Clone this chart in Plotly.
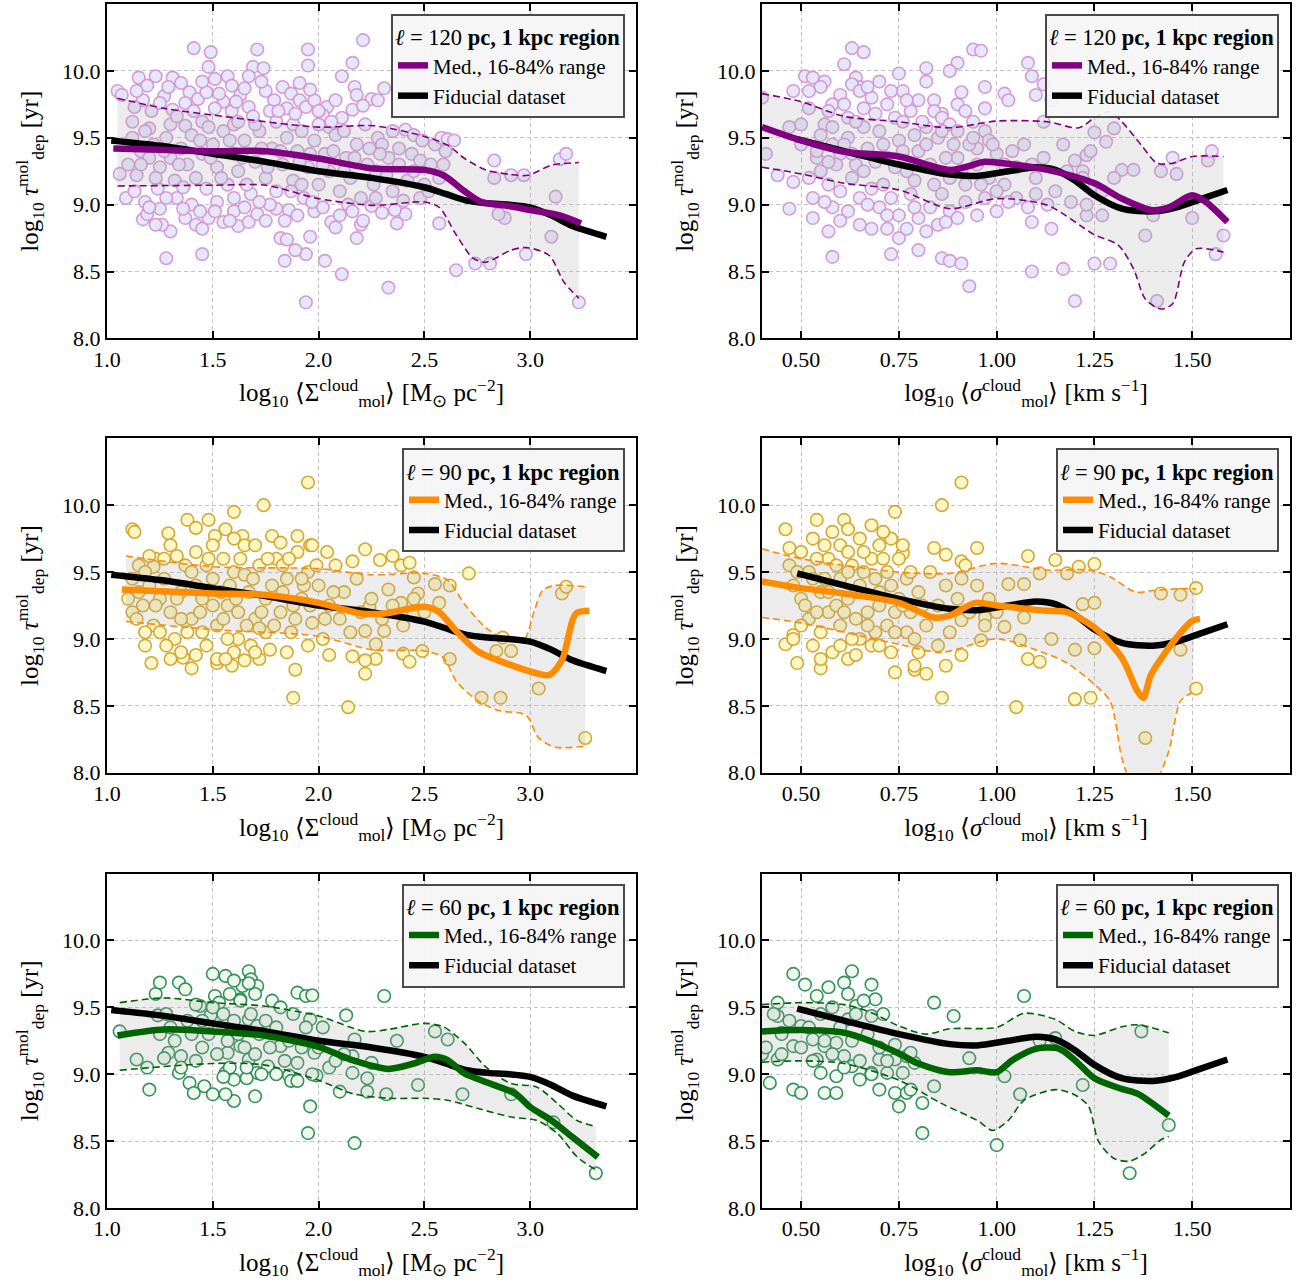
import plotly.graph_objects as go

FONT = "Liberation Serif"

# ---------------- fiducial (black) curves ----------------
FID_SURF_X = [1.02, 1.25, 1.5, 1.75, 2.0, 2.25, 2.5, 2.6, 2.7, 2.8, 2.9, 3.0, 3.1, 3.2, 3.36]
FID_SURF_Y = [9.48, 9.44, 9.38, 9.32, 9.25, 9.20, 9.13, 9.08, 9.03, 9.01, 9.00, 8.98, 8.92, 8.84, 8.76]
FID_VEL_X = [0.49, 0.61, 0.75, 0.88, 0.95, 1.03, 1.1, 1.15, 1.2, 1.25, 1.32, 1.40, 1.46, 1.52, 1.59]
FID_VEL_Y = [9.49, 9.40, 9.30, 9.225, 9.215, 9.25, 9.28, 9.26, 9.18, 9.07, 8.97, 8.95, 8.98, 9.04, 9.11]

# ---------------- l = 120 pc ----------------
MED_120_SURF_X = [1.03, 1.25, 1.5, 1.75, 2.0, 2.26, 2.5, 2.59, 2.69, 2.77, 2.9, 3.0, 3.14, 3.24]
MED_120_SURF_Y = [9.42, 9.41, 9.40, 9.40, 9.345, 9.27, 9.26, 9.22, 9.10, 9.02, 8.99, 8.96, 8.92, 8.86]
HI_120_SURF_X = [1.05, 1.27, 1.5, 2.0, 2.26, 2.5, 2.61, 2.69, 2.79, 2.91, 2.99, 3.1, 3.23]
HI_120_SURF_Y = [9.795, 9.72, 9.67, 9.58, 9.59, 9.51, 9.445, 9.345, 9.26, 9.225, 9.22, 9.295, 9.315]
LO_120_SURF_X = [1.05, 1.5, 1.75, 2.0, 2.26, 2.5, 2.57, 2.65, 2.73, 2.79, 2.91, 2.98, 3.09, 3.16, 3.23]
LO_120_SURF_Y = [9.14, 9.145, 9.145, 9.045, 8.995, 9.02, 8.98, 8.775, 8.60, 8.57, 8.66, 8.68, 8.62, 8.42, 8.30]

MED_120_VEL_X = [0.4, 0.5, 0.61, 0.75, 0.88, 0.97, 1.0, 1.13, 1.25, 1.32, 1.395, 1.44, 1.50, 1.535, 1.59]
MED_120_VEL_Y = [9.58, 9.48, 9.395, 9.36, 9.26, 9.32, 9.315, 9.26, 9.16, 9.045, 8.96, 8.98, 9.07, 9.02, 8.87]
HI_120_VEL_X = [0.4, 0.5, 0.61, 0.75, 0.88, 1.0, 1.13, 1.21, 1.255, 1.29, 1.32, 1.37, 1.41, 1.45, 1.50, 1.58]
HI_120_VEL_Y = [9.83, 9.77, 9.66, 9.62, 9.575, 9.625, 9.62, 9.575, 9.66, 9.695, 9.62, 9.445, 9.31, 9.31, 9.36, 9.36]
LO_120_VEL_X = [0.4, 0.5, 0.61, 0.75, 0.88, 1.0, 1.13, 1.25, 1.31, 1.35, 1.38, 1.42, 1.45, 1.48, 1.51, 1.58]
LO_120_VEL_Y = [9.28, 9.23, 9.16, 9.11, 8.97, 9.045, 8.995, 8.775, 8.70, 8.52, 8.295, 8.22, 8.26, 8.57, 8.67, 8.645]

PTS_120_SURF = [
    (1.05, 9.85), (1.07, 9.82), (1.41, 10.17), (1.49, 10.14), (1.48, 10.03), (1.71, 10.16), (1.69, 10.03),
    (1.74, 10.02), (1.95, 10.16), (1.95, 10.04), (2.21, 10.23), (2.16, 10.06), (2.11, 9.96), (2.17, 9.88),
    (2.18, 9.82), (2.25, 9.79), (2.28, 9.78), (2.31, 9.87), (2.51, 9.78),
    (1.15, 9.95), (1.19, 9.89), (1.23, 9.96), (1.31, 9.95), (1.35, 9.91), (1.39, 9.84), (1.27, 9.81),
    (1.17, 9.78), (1.13, 9.73), (1.25, 9.76), (1.31, 9.71), (1.37, 9.76), (1.43, 9.79), (1.47, 9.84),
    (1.51, 9.94), (1.57, 9.96), (1.59, 9.89), (1.63, 9.82), (1.67, 9.96), (1.65, 9.87), (1.55, 9.77),
    (1.51, 9.72), (1.59, 9.70), (1.67, 9.73), (1.75, 9.85), (1.79, 9.78), (1.83, 9.88), (1.87, 9.83),
    (1.91, 9.91), (1.91, 9.78), (1.85, 9.72), (1.77, 9.70), (1.94, 9.73), (1.98, 9.78), (2.04, 9.73),
    (2.08, 9.78), (2.02, 9.67), (2.11, 9.65), (2.16, 9.71), (2.21, 9.74),
    (1.12, 9.62), (1.20, 9.57), (1.37, 9.59), (1.45, 9.62), (1.60, 9.60), (1.80, 9.62), (1.88, 9.60),
    (2.05, 9.58), (2.22, 9.60), (2.35, 9.55), (2.41, 9.56), (2.45, 9.52), (2.49, 9.48), (2.28, 9.50),
    (2.30, 9.45), (2.38, 9.42), (2.44, 9.38), (2.33, 9.35), (2.48, 9.33), (2.55, 9.45), (2.58, 9.50),
    (2.61, 9.49), (2.64, 9.48), (2.60, 9.40), (2.59, 9.30), (2.57, 9.20), (2.83, 9.33), (2.83, 9.20),
    (2.91, 9.22), (2.97, 9.22), (3.12, 9.06), (3.14, 9.34), (3.17, 9.38), (3.10, 8.76), (2.98, 8.63),
    (3.23, 8.27), (2.88, 8.90), (2.85, 8.93), (2.81, 8.56), (2.74, 8.56), (2.65, 8.51), (2.57, 8.86),
    (2.41, 8.93), (2.37, 8.86), (2.36, 8.96), (2.33, 8.38), (2.20, 8.85), (2.18, 8.75), (2.21, 8.88),
    (2.11, 8.48), (2.03, 8.58), (2.06, 8.87), (2.08, 8.83), (1.94, 8.27), (1.96, 8.76), (1.94, 8.63),
    (1.89, 8.66), (1.84, 8.58), (1.82, 8.75), (1.85, 8.74), (1.45, 8.63), (1.28, 8.60), (1.30, 8.80),
    (1.26, 8.85), (1.23, 8.85), (1.17, 8.89), (1.19, 8.93), (1.25, 8.97), (1.37, 8.90), (1.42, 8.85),
    (1.45, 8.82), (1.48, 8.90), (1.55, 8.87), (1.60, 8.95), (1.62, 8.84), (1.67, 8.87), (1.71, 8.93),
    (1.75, 8.88), (1.80, 8.97), (1.86, 8.96), (1.90, 8.92), (1.98, 8.95), (2.02, 8.98), (2.14, 9.00),
    (2.25, 8.99), (2.30, 8.94), (2.40, 9.03), (2.48, 9.05), (2.52, 9.10),
    (1.06, 9.23), (1.10, 9.30), (1.14, 9.22), (1.16, 9.40), (1.20, 9.35), (1.22, 9.45), (1.25, 9.28),
    (1.28, 9.50), (1.30, 9.35), (1.32, 9.18), (1.35, 9.42), (1.38, 9.30), (1.40, 9.52), (1.42, 9.20),
    (1.45, 9.38), (1.47, 9.12), (1.50, 9.45), (1.52, 9.28), (1.55, 9.55), (1.57, 9.15), (1.60, 9.38),
    (1.62, 9.25), (1.65, 9.48), (1.68, 9.08), (1.70, 9.32), (1.72, 9.55), (1.75, 9.20), (1.78, 9.42),
    (1.80, 9.10), (1.83, 9.30), (1.85, 9.50), (1.88, 9.18), (1.90, 9.40), (1.93, 9.05), (1.95, 9.28),
    (1.98, 9.48), (2.00, 9.15), (2.03, 9.38), (2.05, 9.25), (2.08, 9.52), (2.10, 9.10), (2.13, 9.35),
    (2.15, 9.20), (2.18, 9.45), (2.20, 9.05), (2.23, 9.30), (2.26, 9.15), (2.29, 9.38), (2.32, 9.22),
    (2.35, 9.10), (2.38, 9.30), (2.42, 9.18), (2.45, 9.25), (2.50, 9.15), (2.53, 9.30), (1.09, 9.05),
    (1.13, 9.10), (1.18, 9.02), (1.24, 9.12), (1.33, 9.05), (1.40, 9.00), (1.52, 9.02), (1.60, 9.05),
    (1.77, 9.00), (1.92, 9.15), (1.12, 9.50), (1.18, 9.55), (1.30, 9.60), (1.48, 9.58), (1.62, 9.62),
    (1.70, 9.60), (1.92, 9.55), (2.00, 9.60), (2.12, 9.55),
    (1.14, 9.85), (1.21, 9.70), (1.29, 9.88), (1.33, 9.66), (1.41, 9.70), (1.45, 9.92), (1.53, 9.83),
    (1.61, 9.77), (1.69, 9.66), (1.73, 9.92), (1.81, 9.70), (1.89, 9.68), (1.96, 9.86), (2.00, 9.70),
    (2.06, 9.62), (1.16, 9.30), (1.23, 9.20), (1.27, 9.40), (1.34, 9.30), (1.36, 9.13), (1.44, 9.48),
    (1.49, 9.35), (1.54, 9.20), (1.58, 9.48), (1.64, 9.35), (1.66, 9.15), (1.73, 9.42), (1.76, 9.28),
    (1.82, 9.40), (1.87, 9.10), (1.91, 9.32), (1.96, 9.38), (2.02, 9.30), (2.07, 9.40), (2.12, 9.25),
    (2.17, 9.35), (2.24, 9.42), (2.27, 9.25), (1.20, 8.98), (1.28, 9.05), (1.36, 8.97), (1.44, 8.95),
    (1.51, 8.95), (1.58, 8.88), (1.65, 8.98), (1.72, 9.02), (1.84, 8.88), (1.97, 9.02), (2.10, 8.92),
    (2.16, 8.95), (2.27, 9.05),
]

PTS_120_VEL = [
    (0.40, 9.80), (0.41, 9.38), (0.44, 9.22), (0.47, 8.97), (0.48, 9.17), (0.47, 9.58), (0.48, 9.85),
    (0.51, 9.96), (0.57, 8.80), (0.58, 8.61), (0.61, 10.05), (0.63, 10.17), (0.66, 10.14), (0.64, 9.95),
    (0.65, 9.88), (0.73, 8.63), (0.75, 8.75), (0.72, 8.82), (0.80, 8.66), (0.86, 8.60), (0.88, 8.58),
    (0.91, 8.56), (0.93, 8.39), (0.94, 10.16), (0.96, 10.15), (0.90, 10.06), (0.88, 10.00), (0.82, 10.02),
    (0.82, 9.92), (0.97, 9.88), (1.02, 9.83), (1.03, 9.78), (0.84, 9.78), (0.86, 9.68), (0.91, 9.84),
    (0.90, 9.75), (0.97, 9.72), (1.08, 10.06), (1.09, 9.96), (1.10, 9.82), (1.12, 9.90), (1.14, 9.78),
    (1.09, 9.30), (1.12, 9.62), (1.09, 8.87), (1.14, 8.82), (1.09, 8.50), (1.17, 8.52), (1.20, 8.28),
    (1.25, 8.56), (1.29, 8.56), (1.25, 9.54), (1.23, 9.37), (1.28, 9.47), (1.30, 9.57), (1.20, 9.33),
    (1.22, 9.25), (1.25, 9.13), (1.27, 8.92), (1.23, 8.92), (1.19, 9.02), (1.32, 9.26), (1.35, 9.26),
    (1.38, 8.77), (1.40, 8.92), (1.41, 8.28), (1.42, 9.25), (1.45, 9.35), (1.46, 9.23), (1.50, 8.90),
    (1.54, 9.33), (1.55, 9.40), (1.56, 8.63), (1.58, 8.77), (1.27, 10.24),
    (0.53, 9.95), (0.56, 9.92), (0.55, 9.88), (0.60, 9.82), (0.58, 9.75), (0.52, 9.72), (0.63, 9.90),
    (0.65, 9.85), (0.68, 9.80), (0.70, 9.92), (0.72, 9.75), (0.66, 9.72), (0.75, 9.98), (0.76, 9.85),
    (0.78, 9.70), (0.74, 9.65), (0.62, 9.65), (0.56, 9.60), (0.50, 9.60), (0.80, 9.78), (0.84, 9.70),
    (0.86, 9.65), (0.88, 9.60), (0.82, 9.58), (0.92, 9.70), (0.94, 9.62), (0.90, 9.55), (0.97, 9.55),
    (0.98, 9.48), (0.95, 9.42), (0.55, 9.52), (0.58, 9.45), (0.60, 9.38), (0.62, 9.50), (0.64, 9.30),
    (0.67, 9.42), (0.70, 9.55), (0.72, 9.35), (0.75, 9.48), (0.77, 9.25), (0.80, 9.40), (0.83, 9.30),
    (0.85, 9.50), (0.88, 9.20), (0.90, 9.35), (0.92, 9.15), (0.95, 9.30), (0.98, 9.20), (1.00, 9.38),
    (1.02, 9.15), (1.05, 9.28), (1.07, 9.45), (1.10, 9.20), (1.12, 9.35), (1.15, 9.10), (1.17, 9.45),
    (1.05, 9.05), (1.08, 8.98), (1.10, 9.08), (1.13, 9.00), (0.55, 9.25), (0.57, 9.15), (0.60, 9.10),
    (0.63, 9.20), (0.65, 9.05), (0.68, 9.12), (0.70, 8.98), (0.73, 9.05), (0.75, 8.92), (0.78, 9.08),
    (0.80, 8.90), (0.83, 8.98), (0.85, 8.85), (0.88, 8.95), (0.92, 9.02), (0.95, 8.92), (0.97, 9.05),
    (0.62, 8.95), (0.65, 8.85), (0.68, 8.82), (0.58, 8.98), (0.53, 9.05), (0.52, 9.20), (0.54, 9.35),
    (0.50, 9.45), (0.53, 8.90), (0.77, 8.82), (0.82, 8.80), (0.87, 8.87), (1.00, 8.95), (1.03, 9.02),
    (1.18, 9.25), (1.22, 9.20), (1.24, 9.40), (1.27, 9.10), (1.30, 9.20), (1.23, 9.00), (0.59, 9.30),
    (0.66, 9.58), (0.71, 9.15), (0.76, 9.62), (0.79, 9.52), (0.86, 9.08), (0.93, 9.45), (1.00, 9.10),
    (0.52, 9.85), (0.57, 9.70), (0.61, 9.75), (0.64, 9.62), (0.67, 9.88), (0.69, 9.68), (0.73, 9.85),
    (0.77, 9.78), (0.81, 9.62), (0.54, 9.40), (0.57, 9.32), (0.61, 9.45), (0.63, 9.38), (0.66, 9.25),
    (0.69, 9.32), (0.71, 9.45), (0.74, 9.28), (0.76, 9.40), (0.79, 9.18), (0.82, 9.45), (0.84, 9.15),
    (0.87, 9.35), (0.89, 9.45), (0.91, 9.25), (0.94, 9.50), (0.96, 9.15), (0.99, 9.45), (1.02, 9.30),
    (1.04, 9.40), (0.56, 9.02), (0.60, 8.88), (0.67, 9.00), (0.72, 8.92), (0.79, 8.98), (0.90, 8.90),
    (0.58, 9.58), (0.86, 9.55),
]

# ---------------- l = 90 pc ----------------
MED_90_SURF_X = [1.07, 1.5, 1.74, 2.0, 2.2, 2.31, 2.5, 2.57, 2.65, 2.75, 2.9, 3.04, 3.09, 3.15, 3.18, 3.2, 3.22, 3.28]
MED_90_SURF_Y = [9.37, 9.34, 9.33, 9.27, 9.19, 9.19, 9.24, 9.20, 9.06, 8.91, 8.81, 8.74, 8.73, 8.84, 9.015, 9.14, 9.195, 9.21]
HI_90_SURF_X = [1.09, 1.5, 2.0, 2.25, 2.5, 2.61, 2.69, 2.79, 2.9, 2.97, 3.02, 3.06, 3.12, 3.26]
HI_90_SURF_Y = [9.62, 9.54, 9.525, 9.48, 9.49, 9.44, 9.26, 9.085, 8.985, 8.99, 9.215, 9.365, 9.40, 9.39]
LO_90_SURF_X = [1.09, 1.5, 2.0, 2.25, 2.5, 2.59, 2.65, 2.75, 2.85, 2.98, 3.04, 3.12, 3.26]
LO_90_SURF_Y = [9.13, 9.07, 9.02, 8.92, 8.91, 8.86, 8.685, 8.54, 8.465, 8.43, 8.26, 8.19, 8.20]

MED_90_VEL_X = [0.4, 0.5, 0.61, 0.75, 0.84, 0.88, 0.945, 1.0, 1.13, 1.18, 1.25, 1.32, 1.36, 1.375, 1.395, 1.46, 1.50, 1.52]
MED_90_VEL_Y = [9.43, 9.38, 9.34, 9.27, 9.16, 9.175, 9.27, 9.25, 9.21, 9.20, 9.085, 8.86, 8.61, 8.56, 8.735, 9.01, 9.135, 9.15]
HI_90_VEL_X = [0.4, 0.5, 0.75, 0.88, 1.0, 1.13, 1.235, 1.29, 1.355, 1.395, 1.46, 1.51]
HI_90_VEL_Y = [9.675, 9.60, 9.50, 9.49, 9.565, 9.515, 9.515, 9.465, 9.35, 9.36, 9.375, 9.375]
LO_90_VEL_X = [0.4, 0.5, 0.75, 0.86, 1.0, 1.13, 1.18, 1.25, 1.29, 1.32, 1.34, 1.375, 1.41, 1.44, 1.47, 1.50]
LO_90_VEL_Y = [9.16, 9.12, 8.96, 8.90, 9.0, 8.885, 8.82, 8.66, 8.535, 8.11, 7.95, 7.85, 7.95, 8.16, 8.535, 8.60]

PTS_90_SURF = [
    (1.12, 9.82), (1.13, 9.80), (1.29, 9.79), (1.23, 9.60), (1.22, 9.54), (1.18, 8.95), (1.21, 8.82),
    (1.38, 9.89), (1.42, 9.83), (1.48, 9.89), (1.51, 9.77), (1.56, 9.82), (1.60, 9.95), (1.64, 9.77),
    (1.74, 10.00), (1.78, 9.77), (1.90, 9.77), (1.95, 10.17), (1.96, 9.70), (2.04, 9.65), (2.22, 9.67),
    (2.16, 9.58), (2.29, 9.59), (2.35, 9.62), (2.39, 9.55), (2.43, 9.57), (2.45, 9.46), (2.55, 9.41),
    (2.71, 9.49), (2.62, 9.40), (2.57, 9.27), (2.47, 9.34), (2.33, 9.37), (2.39, 9.27), (2.45, 9.19),
    (2.24, 9.24), (2.22, 9.06), (2.27, 8.96), (2.31, 9.06), (2.40, 8.89), (2.43, 8.83), (2.49, 8.91),
    (2.27, 8.85), (2.22, 8.84), (2.22, 8.74), (2.16, 8.87), (2.05, 8.88), (2.14, 8.49), (1.89, 8.77),
    (1.88, 8.56), (1.72, 8.85), (1.65, 8.84), (1.59, 8.80), (1.52, 8.82), (1.40, 8.78), (1.36, 8.86),
    (2.62, 8.85), (2.77, 8.56), (2.86, 8.56), (2.84, 8.91), (2.91, 8.91), (3.04, 8.63), (2.87, 9.01),
    (3.15, 9.34), (3.17, 9.39), (3.26, 8.26),
    (1.10, 9.30), (1.12, 9.20), (1.15, 9.35), (1.17, 9.25), (1.20, 9.40), (1.22, 9.10), (1.25, 9.30),
    (1.27, 9.45), (1.30, 9.20), (1.32, 9.00), (1.35, 9.35), (1.37, 9.55), (1.40, 9.15), (1.42, 9.65),
    (1.45, 9.30), (1.47, 8.95), (1.50, 9.45), (1.52, 9.10), (1.55, 9.60), (1.57, 9.25), (1.60, 9.50),
    (1.62, 9.00), (1.65, 9.70), (1.67, 9.35), (1.70, 9.15), (1.72, 9.55), (1.75, 9.30), (1.77, 8.92),
    (1.80, 9.60), (1.82, 9.20), (1.85, 9.45), (1.87, 9.05), (1.90, 9.65), (1.92, 9.30), (1.95, 9.50),
    (1.97, 9.12), (2.00, 9.40), (2.02, 9.00), (2.05, 9.25), (2.08, 9.55), (2.10, 9.15), (2.12, 9.35),
    (2.15, 9.05), (2.18, 9.45), (2.20, 9.20), (2.25, 9.30), (2.30, 9.15), (2.35, 9.25), (2.40, 9.10),
    (2.45, 9.30), (2.50, 9.20), (1.15, 9.55), (1.25, 9.05), (1.35, 8.90), (1.45, 9.05), (1.52, 8.85),
    (1.60, 8.90), (1.68, 8.95), (1.75, 9.05), (1.85, 8.90), (1.95, 8.95), (1.20, 9.62), (1.30, 9.70),
    (1.50, 9.70), (1.60, 9.75), (1.70, 9.70), (1.82, 9.72), (1.97, 9.70), (1.35, 9.15), (1.42, 9.40),
    (1.58, 9.40), (1.62, 9.20), (1.78, 9.40), (1.88, 9.25), (1.12, 9.45), (1.28, 8.95), (1.18, 9.05),
    (1.33, 9.62), (1.47, 9.55), (1.55, 9.15), (1.65, 9.48), (1.72, 9.08), (1.83, 9.55), (1.93, 9.40),
    (1.14, 9.15), (1.18, 9.50), (1.23, 9.25), (1.27, 9.60), (1.33, 9.30), (1.38, 9.05), (1.40, 9.50),
    (1.44, 9.20), (1.48, 9.60), (1.50, 9.25), (1.54, 9.35), (1.57, 9.00), (1.61, 9.30), (1.63, 9.60),
    (1.66, 9.10), (1.69, 9.45), (1.73, 9.20), (1.76, 9.60), (1.79, 9.10), (1.83, 9.35), (1.86, 9.60),
    (1.89, 9.15), (1.92, 9.45), (1.96, 9.25), (1.99, 9.55), (2.03, 9.15), (2.07, 9.35), (1.30, 8.85),
    (1.42, 8.88), (1.56, 8.85), (1.70, 8.90),
]

PTS_90_VEL = [
    (0.46, 9.82), (0.47, 9.68), (0.49, 8.82), (0.46, 8.96), (0.48, 9.03), (0.54, 9.89), (0.55, 8.78),
    (0.61, 9.89), (0.62, 9.82), (0.68, 9.85), (0.74, 9.95), (0.73, 9.75), (0.76, 9.64), (0.74, 8.75),
    (0.79, 8.77), (0.82, 8.74), (0.86, 8.56), (0.87, 8.80), (0.86, 10.00), (0.91, 10.17), (0.84, 9.68),
    (0.87, 9.63), (0.91, 9.58), (0.95, 9.68), (0.91, 9.45), (0.91, 9.14), (0.91, 8.88), (0.96, 8.99),
    (0.97, 9.16), (1.00, 9.20), (1.02, 9.09), (1.03, 9.41), (1.05, 8.49), (1.06, 8.99), (1.07, 9.16),
    (1.08, 9.62), (1.11, 9.49), (1.07, 9.41), (1.08, 8.85), (1.11, 8.83), (1.14, 9.00), (1.15, 9.59),
    (1.18, 9.49), (1.21, 9.54), (1.22, 9.26), (1.25, 9.56), (1.25, 9.27), (1.20, 8.92), (1.25, 8.93),
    (1.20, 8.55), (1.24, 8.56), (1.38, 8.26), (1.42, 9.34), (1.47, 9.33), (1.47, 8.92), (1.51, 9.38),
    (1.51, 8.63),
    (0.47, 9.55), (0.48, 9.40), (0.50, 9.65), (0.50, 9.30), (0.52, 9.50), (0.52, 9.15), (0.53, 9.75),
    (0.55, 9.35), (0.55, 9.05), (0.57, 9.60), (0.57, 9.20), (0.58, 8.90), (0.60, 9.45), (0.60, 9.70),
    (0.60, 9.10), (0.62, 9.30), (0.62, 8.85), (0.63, 9.55), (0.65, 9.00), (0.65, 9.75), (0.65, 9.40),
    (0.67, 9.20), (0.68, 9.60), (0.68, 8.95), (0.70, 9.35), (0.70, 9.70), (0.72, 9.10), (0.72, 9.50),
    (0.73, 8.90), (0.75, 9.30), (0.75, 9.60), (0.77, 9.05), (0.77, 9.45), (0.78, 9.20), (0.80, 9.35),
    (0.80, 8.90), (0.82, 9.10), (0.83, 9.50), (0.85, 9.25), (0.85, 8.95), (0.87, 9.40), (0.88, 9.05),
    (0.90, 9.30), (0.92, 9.55), (0.93, 9.20), (0.95, 9.40), (0.97, 9.10), (0.98, 9.30), (0.53, 8.95),
    (0.56, 9.45), (0.59, 9.25), (0.64, 9.15), (0.66, 9.50), (0.69, 9.05), (0.74, 9.20), (0.79, 8.80),
    (0.50, 9.10), (0.48, 9.00), (0.54, 9.60), (0.58, 9.80), (0.62, 9.65), (0.71, 9.80), (0.76, 9.70),
    (0.49, 9.50), (0.51, 9.25), (0.53, 9.45), (0.54, 9.20), (0.56, 9.70), (0.57, 9.35), (0.59, 9.55),
    (0.61, 9.20), (0.62, 9.50), (0.63, 9.00), (0.64, 9.35), (0.66, 9.65), (0.67, 9.10), (0.69, 9.45),
    (0.70, 9.25), (0.71, 9.60), (0.73, 9.40), (0.74, 9.05), (0.76, 9.25), (0.78, 9.50), (0.79, 9.00),
    (0.81, 9.25), (0.55, 8.85), (0.60, 8.95), (0.64, 8.88), (0.70, 8.95),
]

# ---------------- l = 60 pc ----------------
MED_60_SURF_X = [1.05, 1.27, 1.5, 1.74, 2.0, 2.16, 2.33, 2.45, 2.55, 2.61, 2.69, 2.81, 2.93, 3.0, 3.1, 3.2, 3.32]
MED_60_SURF_Y = [9.29, 9.335, 9.32, 9.29, 9.205, 9.105, 9.04, 9.08, 9.13, 9.105, 9.005, 8.93, 8.855, 8.755, 8.655, 8.53, 8.38]
HI_60_SURF_X = [1.06, 1.27, 1.5, 1.74, 2.0, 2.22, 2.33, 2.5, 2.59, 2.69, 2.79, 2.91, 3.03, 3.13, 3.22, 3.31]
HI_60_SURF_Y = [9.535, 9.57, 9.535, 9.51, 9.435, 9.32, 9.335, 9.38, 9.355, 9.23, 9.055, 8.93, 8.905, 8.78, 8.655, 8.61]
LO_60_SURF_X = [1.06, 1.5, 1.74, 2.0, 2.16, 2.33, 2.5, 2.61, 2.75, 2.91, 3.03, 3.13, 3.22, 3.31]
LO_60_SURF_Y = [9.03, 9.08, 9.07, 8.955, 8.855, 8.82, 8.82, 8.805, 8.745, 8.68, 8.655, 8.555, 8.385, 8.285]

MED_60_VEL_X = [0.4, 0.5, 0.61, 0.68, 0.75, 0.8, 0.88, 0.95, 1.0, 1.04, 1.1, 1.16, 1.2, 1.25, 1.32, 1.36, 1.44]
MED_60_VEL_Y = [9.32, 9.33, 9.31, 9.245, 9.155, 9.08, 9.015, 9.03, 9.015, 9.105, 9.19, 9.19, 9.105, 8.97, 8.89, 8.855, 8.69]
HI_60_VEL_X = [0.4, 0.5, 0.61, 0.68, 0.75, 0.82, 0.88, 1.0, 1.07, 1.15, 1.2, 1.25, 1.32, 1.36, 1.44]
HI_60_VEL_Y = [9.52, 9.535, 9.52, 9.46, 9.36, 9.30, 9.34, 9.35, 9.455, 9.41, 9.32, 9.29, 9.355, 9.37, 9.31]
LO_60_VEL_X = [0.4, 0.5, 0.61, 0.75, 0.86, 0.95, 0.99, 1.03, 1.07, 1.15, 1.2, 1.235, 1.26, 1.30, 1.34, 1.38, 1.42, 1.44]
LO_60_VEL_Y = [9.09, 9.10, 9.08, 8.955, 8.78, 8.655, 8.58, 8.655, 8.805, 8.885, 8.845, 8.76, 8.50, 8.37, 8.35, 8.41, 8.51, 8.535]

PTS_60_SURF = [
    (1.06, 9.32), (1.14, 9.11), (1.19, 9.05), (1.20, 8.885), (1.23, 9.60), (1.25, 9.685), (1.24, 9.44),
    (1.29, 9.16), (1.34, 9.685), (1.37, 9.635), (1.35, 9.135), (1.34, 9.01), (1.39, 8.935), (1.41, 8.86),
    (1.46, 8.91), (1.50, 8.85), (1.50, 9.75), (1.56, 9.735), (1.51, 9.585), (1.53, 9.535), (1.49, 9.44),
    (1.44, 9.51), (1.57, 9.16), (1.56, 9.01), (1.60, 8.96), (1.60, 8.80), (1.56, 8.85), (1.64, 9.66),
    (1.67, 9.77), (1.68, 9.71), (1.71, 9.66), (1.63, 9.56), (1.67, 9.41), (1.71, 9.36), (1.63, 9.21),
    (1.67, 9.11), (1.71, 9.01), (1.66, 8.97), (1.70, 8.835), (1.76, 9.06), (1.78, 9.55), (1.82, 9.21),
    (1.86, 8.99), (1.87, 8.95), (1.90, 9.61), (1.94, 9.585), (1.97, 9.59), (1.96, 9.41), (1.90, 9.085),
    (1.98, 9.16), (1.99, 8.99), (1.96, 8.76), (1.95, 8.56), (2.05, 9.05), (2.10, 8.87), (2.13, 9.44),
    (2.17, 9.26), (2.16, 9.135), (2.16, 9.01), (2.23, 8.97), (2.23, 8.87), (2.25, 9.085), (2.17, 8.485),
    (2.32, 8.85), (2.31, 9.585), (2.37, 9.25), (2.47, 8.92), (2.55, 9.32), (2.61, 9.26), (2.68, 8.85),
    (2.91, 8.85), (3.11, 8.64), (3.31, 8.26),
    (1.25, 9.30), (1.28, 9.45), (1.30, 9.35), (1.32, 9.25), (1.38, 9.40), (1.40, 9.30), (1.42, 9.52),
    (1.45, 9.20), (1.45, 9.40), (1.48, 9.30), (1.50, 9.50), (1.52, 9.15), (1.53, 9.35), (1.55, 9.45),
    (1.57, 9.25), (1.58, 9.05), (1.60, 9.40), (1.62, 9.30), (1.63, 9.55), (1.65, 9.20), (1.66, 9.05),
    (1.68, 9.45), (1.70, 9.15), (1.72, 9.30), (1.73, 9.00), (1.75, 9.40), (1.77, 9.20), (1.80, 9.35),
    (1.80, 9.00), (1.82, 9.50), (1.84, 9.10), (1.86, 9.25), (1.88, 9.45), (1.90, 8.95), (1.92, 9.20),
    (1.94, 9.35), (1.97, 9.00), (2.00, 9.20), (2.02, 9.35), (2.08, 9.10), (2.12, 9.15), (1.35, 9.05),
    (1.27, 9.12), (1.42, 9.10), (1.55, 8.98), (1.58, 9.60), (1.70, 9.60), (1.60, 9.70), (1.67, 9.68),
]

PTS_60_VEL = [
    (0.48, 9.75), (0.44, 9.535), (0.42, 8.935), (0.40, 9.15), (0.41, 9.20), (0.48, 8.885), (0.50, 8.86),
    (0.51, 9.67), (0.54, 9.585), (0.55, 9.01), (0.54, 9.11), (0.56, 8.86), (0.59, 8.86), (0.59, 8.985),
    (0.61, 9.685), (0.63, 9.77), (0.68, 9.67), (0.69, 9.56), (0.68, 9.435), (0.64, 9.51), (0.62, 9.41),
    (0.44, 9.435), (0.45, 9.31), (0.48, 9.21), (0.44, 9.11), (0.50, 9.36), (0.53, 9.26), (0.56, 9.21),
    (0.59, 9.235), (0.61, 9.135), (0.63, 9.06), (0.65, 8.96), (0.70, 8.885), (0.68, 9.01), (0.70, 9.11),
    (0.74, 9.22), (0.74, 9.11), (0.72, 9.01), (0.76, 9.01), (0.74, 8.86), (0.75, 8.76), (0.77, 8.86),
    (0.78, 8.885), (0.81, 8.785), (0.81, 8.56), (0.77, 9.135), (0.79, 9.085), (0.78, 9.16), (0.84, 8.91),
    (0.84, 9.535), (0.89, 9.435), (0.93, 9.12), (1.00, 8.47), (1.02, 8.985), (1.06, 8.85), (1.07, 9.585),
    (1.11, 9.25), (1.15, 9.27), (1.22, 8.92), (1.34, 8.26), (1.37, 9.32), (1.44, 8.62),
    (0.45, 9.30), (0.47, 9.40), (0.50, 9.20), (0.52, 9.35), (0.53, 9.10), (0.55, 9.45), (0.56, 9.25),
    (0.58, 9.50), (0.58, 9.15), (0.60, 9.35), (0.61, 9.05), (0.62, 9.60), (0.63, 9.25), (0.64, 9.45),
    (0.65, 9.10), (0.66, 9.55), (0.67, 9.30), (0.68, 9.00), (0.70, 9.20), (0.71, 9.45), (0.72, 9.10),
    (0.45, 9.15), (0.43, 9.45), (0.57, 9.65),
]

LEGEND_TITLES = ["<i>ℓ</i> = 120 <b>pc, 1 kpc region</b>",
                 "<i>ℓ</i> = 90 <b>pc, 1 kpc region</b>",
                 "<i>ℓ</i> = 60 <b>pc, 1 kpc region</b>"]
LEGEND_MED = "Med., 16-84% range"
LEGEND_FID = "Fiducial dataset"

X_TITLE_SURF = "log<sub>10</sub> ⟨Σ<sup>cloud</sup><sub>mol</sub>⟩ [M<sub>⊙</sub> pc<sup>−2</sup>]"
X_TITLE_VEL = "log<sub>10</sub> ⟨<i>σ</i><sup>cloud</sup><sub>mol</sub>⟩ [km s<sup>−1</sup>]"
Y_TITLE = "log<sub>10</sub> <i>τ</i><sup>mol</sup><sub>dep</sub> [yr]"

X_TICKS_SURF = [1.0, 1.5, 2.0, 2.5, 3.0]
X_TICKS_VEL = [0.5, 0.75, 1.0, 1.25, 1.5]
Y_TICKS = [8.0, 8.5, 9.0, 9.5, 10.0]

# ---------------- styles ----------------
ROW_STYLE = [
    dict(line="#800080", fill="#e6e6fa", edge="#d496d6"),
    dict(line="#ff8c00", fill="#fdf7c4", edge="#d4a42c"),
    dict(line="#006400", fill="#eefaee", edge="#2e8b57"),
]

panels = [
    (0, 0, PTS_120_SURF, MED_120_SURF_X, MED_120_SURF_Y, HI_120_SURF_X, HI_120_SURF_Y, LO_120_SURF_X, LO_120_SURF_Y),
    (0, 1, PTS_120_VEL, MED_120_VEL_X, MED_120_VEL_Y, HI_120_VEL_X, HI_120_VEL_Y, LO_120_VEL_X, LO_120_VEL_Y),
    (1, 0, PTS_90_SURF, MED_90_SURF_X, MED_90_SURF_Y, HI_90_SURF_X, HI_90_SURF_Y, LO_90_SURF_X, LO_90_SURF_Y),
    (1, 1, PTS_90_VEL, MED_90_VEL_X, MED_90_VEL_Y, HI_90_VEL_X, HI_90_VEL_Y, LO_90_VEL_X, LO_90_VEL_Y),
    (2, 0, PTS_60_SURF, MED_60_SURF_X, MED_60_SURF_Y, HI_60_SURF_X, HI_60_SURF_Y, LO_60_SURF_X, LO_60_SURF_Y),
    (2, 1, PTS_60_VEL, MED_60_VEL_X, MED_60_VEL_Y, HI_60_VEL_X, HI_60_VEL_Y, LO_60_VEL_X, LO_60_VEL_Y),
]

W, H = 1304, 1288
ML, MR, MT, MB = 107, 14, 2, 80
PW, PH = W - ML - MR, H - MT - MB
COL_PX = [(107, 636), (762, 1290)]
ROW_PX = [(2, 337), (437, 772), (873, 1208)]


def xdom(c):
    a, b = COL_PX[c]
    return [(a - ML) / PW, (b - ML) / PW]


def ydom(r):
    a, b = ROW_PX[r]
    return [1 - (b - MT) / PH, 1 - (a - MT) / PH]


fig = go.Figure()
layout = dict(width=W, height=H, margin=dict(l=ML, r=MR, t=MT, b=MB),
              paper_bgcolor="white", plot_bgcolor="white",
              font=dict(family=FONT, color="black"), showlegend=True)

traces = []
for k, (r, c, pts, mx, my, hx, hy, lx, ly) in enumerate(panels, start=1):
    st = ROW_STYLE[r]
    xa, ya = f"x{k}", f"y{k}"
    lg = "legend" if k == 1 else f"legend{k}"
    px = [p[0] for p in pts]
    py = [p[1] for p in pts]
    traces.append(go.Scatter(x=px, y=py, mode="markers", xaxis=xa, yaxis=ya, showlegend=False,
                             marker=dict(size=12.5, color=st["fill"], opacity=0.95,
                                         line=dict(color=st["edge"], width=1.6)), hoverinfo="skip"))
    # shaded 16-84% band
    traces.append(go.Scatter(x=lx, y=ly, mode="lines", xaxis=xa, yaxis=ya, showlegend=False,
                             line=dict(width=0, shape="spline", smoothing=0.8), hoverinfo="skip"))
    traces.append(go.Scatter(x=hx, y=hy, mode="lines", xaxis=xa, yaxis=ya, showlegend=False,
                             fill="tonexty", fillcolor="rgba(170,170,170,0.22)",
                             line=dict(width=0, shape="spline", smoothing=0.8), hoverinfo="skip"))
    for bx, by in ((lx, ly), (hx, hy)):
        traces.append(go.Scatter(x=bx, y=by, mode="lines", xaxis=xa, yaxis=ya, showlegend=False,
                                 line=dict(color=st["line"], width=1.6, dash="7px,4px",
                                           shape="spline", smoothing=0.8), hoverinfo="skip"))
    fx, fy = (FID_SURF_X, FID_SURF_Y) if c == 0 else (FID_VEL_X, FID_VEL_Y)
    traces.append(go.Scatter(x=fx, y=fy, mode="lines", xaxis=xa, yaxis=ya, name=LEGEND_FID,
                             legend=lg, legendrank=2,
                             line=dict(color="black", width=6.5, shape="spline", smoothing=0.8)))
    traces.append(go.Scatter(x=mx, y=my, mode="lines", xaxis=xa, yaxis=ya, name=LEGEND_MED,
                             legend=lg, legendrank=1,
                             line=dict(color=st["line"], width=6.5, shape="spline", smoothing=0.8)))

    axis_common = dict(showline=True, linewidth=2, linecolor="black", mirror="allticks",
                       ticks="inside", ticklen=7, tickwidth=1.5, tickcolor="black",
                       showgrid=True, gridcolor="#c4c4c4", gridwidth=1, griddash="4px,3px",
                       zeroline=False, tickfont=dict(size=22, family=FONT, color="black"))
    xkey = "xaxis" if k == 1 else f"xaxis{k}"
    ykey = "yaxis" if k == 1 else f"yaxis{k}"
    if c == 0:
        xr, xt, xf, xtitle = [1.0, 3.5], X_TICKS_SURF, ".1f", X_TITLE_SURF
    else:
        xr, xt, xf, xtitle = [0.4, 1.75], X_TICKS_VEL, ".2f", X_TITLE_VEL
    layout[xkey] = dict(axis_common, domain=xdom(c), anchor=ya, range=xr, tickvals=xt,
                        tickformat=xf,
                        title=dict(text=xtitle, font=dict(size=25, family=FONT), standoff=13))
    layout[ykey] = dict(axis_common, domain=ydom(r), anchor=xa, range=[8.0, 10.5], tickvals=Y_TICKS,
                        tickformat=".1f",
                        title=dict(text=Y_TITLE, font=dict(size=25, family=FONT), standoff=16))
    lx_px = COL_PX[c][1] - 11
    ly_px = ROW_PX[r][0] + 10
    layout[lg] = dict(x=(lx_px - ML) / PW, y=1 - (ly_px - MT) / PH, xanchor="right", yanchor="top",
                      bgcolor="rgba(245,245,245,0.92)", bordercolor="#4a4a4a", borderwidth=2,
                      font=dict(size=21, family=FONT, color="black"),
                      title=dict(text=LEGEND_TITLES[r], font=dict(size=22.5, family=FONT, color="black")),
                      itemwidth=30, traceorder="normal")

fig.add_traces(traces)
fig.update_layout(**layout)
fig.write_html("out.html", config={"displayModeBar": False},
               post_script="document.body.style.margin='0px';")
